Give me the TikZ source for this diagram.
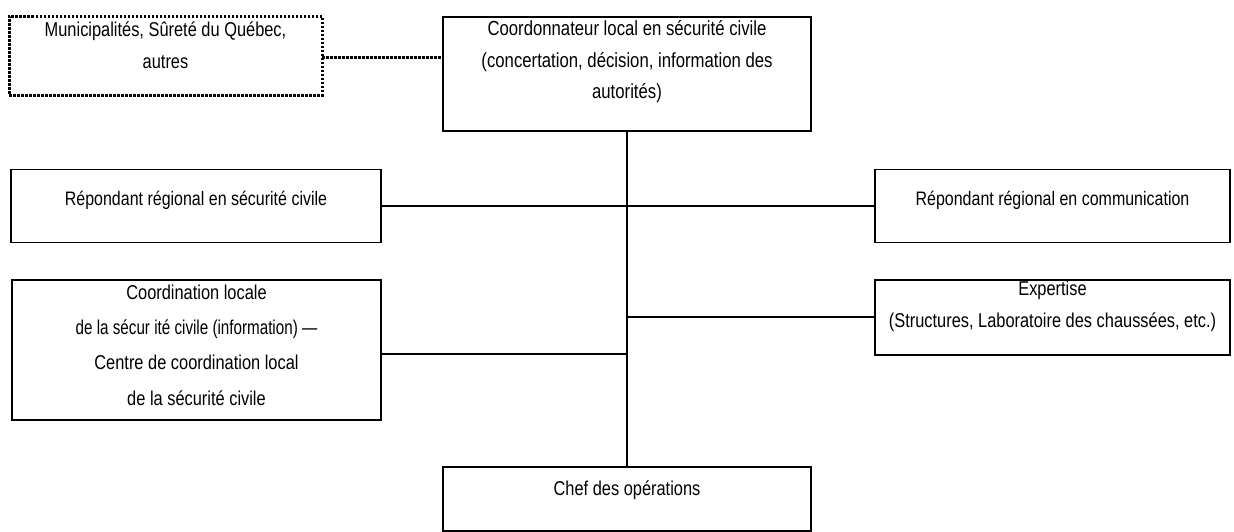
\documentclass[tikz,border=0pt]{standalone}
\usepackage{fontspec}
\setmainfont{Liberation Sans}[FakeStretch=0.82]
\newfontfamily\tightfont{Liberation Sans}[FakeStretch=0.76]
\usetikzlibrary{positioning}

\tikzset{
  orgbox/.style={draw, line width=1.7pt, inner sep=0pt, outer sep=0pt},
  dotbox/.style={draw, line width=3pt, dash pattern=on 2.5pt off 1.5pt, inner sep=0pt, outer sep=0pt},
  orgtxt/.style={align=center, inner sep=0pt, font=\fontsize{20}{32}\selectfont},
  link/.style={line width=1.7pt},
}

\begin{document}
\begin{tikzpicture}[x=1pt,y=-1pt]
\useasboundingbox (0,0) rectangle (1234,531);
% boxes
\node[dotbox, minimum width=313pt, minimum height=79pt] (munic) at (165.5,55.5) {};
\node[orgbox, minimum width=368pt, minimum height=114pt] (coord) at (627,74) {};
\node[orgbox, minimum width=370pt, minimum height=73pt] (repsc) at (196,206) {};
\node[orgbox, minimum width=355pt, minimum height=73pt] (repcom) at (1052.5,206) {};
\node[orgbox, minimum width=369pt, minimum height=140pt] (ccl) at (196.5,350) {};
\node[orgbox, minimum width=355pt, minimum height=75pt] (expert) at (1052.5,317.5) {};
\node[orgbox, minimum width=368pt, minimum height=64pt] (chef) at (627,499) {};
% texts
\node[orgtxt] (munictxt) at ([yshift=10pt]munic.center) {Municipalités, Sûreté du Québec,\\autres};
\node[orgtxt, font=\fontsize{20.4}{31.5}\selectfont] (coordtxt) at ([yshift=12pt]coord.center) {Coordonnateur local en sécurité civile\\(concertation, décision, information des\\autorités)};
\node[orgtxt, font=\fontsize{19.5}{32}\selectfont] (repsctxt) at ([yshift=6pt]repsc.center) {Répondant régional en sécurité civile};
\node[orgtxt, font=\fontsize{19.5}{32}\selectfont] (repcomtxt) at ([yshift=6pt]repcom.center) {Répondant régional en communication};
\node[orgtxt, font=\fontsize{20}{35.3}\selectfont] (ccltxt) at ([yshift=5pt]ccl.center) {Coordination locale\\{\tightfont de la sécur ité civile (information) —}\\Centre de coordination local\\de la sécurité civile};
\node[orgtxt] (experttxt) at ([yshift=11pt]expert.center) {Expertise\\(Structures, Laboratoire des chaussées, etc.)};
\node[orgtxt] (cheftxt) at ([yshift=9pt]chef.center) {Chef des opérations};
% trunk and branches
\coordinate (jrep) at (coord.south |- 0,206);
\coordinate (jexp) at (coord.south |- 0,317);
\coordinate (jccl) at (coord.south |- 0,354);
\draw[link] (coord.south) -- (chef.north);
\draw[link] (repsc.east |- jrep) -- (repcom.west |- jrep);
\draw[link] (jexp) -- (expert.west |- jexp);
\draw[link] (ccl.east |- jccl) -- (jccl);
\draw[dotbox] (munic.east |- 0,57) -- (coord.west |- 0,57);
\end{tikzpicture}
\end{document}
